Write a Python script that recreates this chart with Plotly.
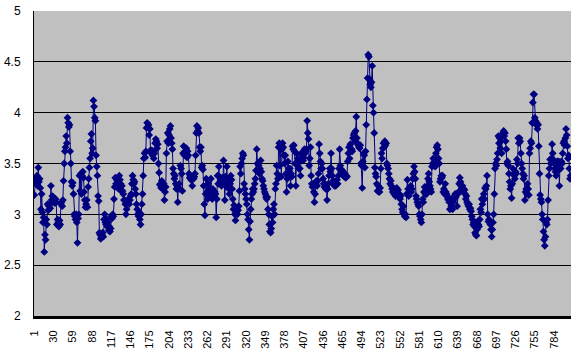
import plotly.graph_objects as go

values = [
3.19, 3.33, 3.36, 3.30, 3.38, 3.28, 3.46, 3.32, 3.35, 3.26,
3.05, 3.20, 3.02, 2.92, 2.97, 2.63, 2.80, 2.75, 2.95, 2.90,
3.10, 3.04, 3.08, 3.10, 3.06, 3.28, 3.14, 3.18, 3.12, 3.17,
3.13, 3.11, 3.15, 3.12, 2.90, 2.95, 2.92, 2.88, 2.94, 2.90,
3.10, 3.12, 3.08, 3.14, 3.33, 3.50, 3.62, 3.66, 3.77, 3.70,
3.95, 3.90, 3.86, 3.88, 3.62, 3.50, 3.32, 3.28, 3.31, 3.20,
3.00, 2.98, 2.95, 3.00, 2.92, 2.72, 2.96, 3.00, 3.38, 3.23,
3.40, 3.20, 3.38, 3.42, 3.36, 3.22, 3.14, 3.07, 3.10, 3.14,
3.07, 3.27, 3.35, 3.46, 3.55, 3.72, 3.79, 3.60, 3.65, 4.12,
4.06, 3.95, 3.92, 3.58, 3.47, 3.38, 3.18, 3.13, 2.82, 2.80,
2.76, 2.78, 2.80, 2.82, 2.78, 2.95, 3.00, 2.92, 2.90, 2.95,
2.88, 2.92, 2.84, 2.88, 2.83, 2.86, 2.98, 2.96, 3.00, 2.98,
3.15, 3.27, 3.36, 3.30, 3.34, 3.27, 3.30, 3.25, 3.38, 3.34,
3.30, 3.23, 3.28, 3.23, 3.20, 3.14, 3.14, 3.10, 3.00, 3.05,
3.14, 3.12, 3.14, 3.10, 3.14, 3.18, 3.20, 3.30, 3.38, 3.34,
3.30, 3.32, 3.25, 3.20, 3.10, 3.05, 3.00, 2.98, 3.02, 2.95,
2.90, 3.00, 3.10, 3.20, 3.38, 3.55, 3.60, 3.56, 3.62, 3.85,
3.90, 3.86, 3.88, 3.78, 3.84, 3.63, 3.60, 3.63, 3.58, 3.62,
3.55, 3.60, 3.70, 3.74, 3.72, 3.65, 3.69, 3.50, 3.41, 3.29,
3.30, 3.26, 3.33, 3.28, 3.25, 3.30, 3.14, 3.22, 3.27, 3.60,
3.72, 3.80, 3.70, 3.78, 3.84, 3.87, 3.75, 3.70, 3.64, 3.45,
3.40, 3.35, 3.38, 3.30, 3.25, 3.28, 3.12, 3.26, 3.30, 3.25,
3.48, 3.45, 3.40, 3.23, 3.60, 3.67, 3.58, 3.62, 3.60, 3.65,
3.56, 3.62, 3.58, 3.40, 3.36, 3.38, 3.34, 3.36, 3.28, 3.37,
3.35, 3.37, 3.40, 3.58, 3.80, 3.87, 3.82, 3.85, 3.80, 3.66,
3.62, 3.66, 3.46, 3.48, 3.44, 3.28, 3.10, 2.99, 3.20, 3.35,
3.22, 3.15, 3.30, 3.25, 3.18, 3.20, 3.35, 3.22, 3.15, 3.25,
3.20, 3.18, 3.22, 3.20, 2.97, 3.15, 3.38, 3.30, 3.47, 3.37,
3.30, 3.34, 3.28, 3.36, 3.30, 3.53, 3.30, 3.14, 3.37, 3.28,
3.47, 3.30, 3.35, 3.25, 3.20, 3.30, 3.38, 3.34, 3.25, 3.15,
3.05, 3.09, 3.00, 2.94, 3.02, 3.06, 3.00, 3.04, 3.08, 3.23,
3.47, 3.40, 3.50, 3.55, 3.60, 3.58, 3.30, 3.25, 3.20, 3.15,
3.10, 3.00, 2.95, 2.85, 2.75, 2.93, 3.05, 3.15, 3.20, 3.25,
3.22, 3.25, 3.30, 3.35, 3.43, 3.64, 3.50, 3.45, 3.48, 3.40,
3.45, 3.53, 3.42, 3.35, 3.33, 3.28, 3.25, 3.22, 3.20, 3.17,
3.15, 3.17, 3.05, 3.00, 2.90, 2.83, 2.82, 2.86, 2.98, 2.92,
3.05, 3.10, 3.00, 3.25, 3.30, 3.48, 3.40, 3.35, 3.66, 3.70,
3.48, 3.68, 3.37, 3.64, 3.70, 3.66, 3.58, 3.50, 3.58, 3.40,
3.22, 3.35, 3.52, 3.45, 3.37, 3.45, 3.28, 3.40, 3.37, 3.67,
3.64, 3.68, 3.62, 3.50, 3.28, 3.60, 3.50, 3.55, 3.45, 3.52,
3.45, 3.38, 3.60, 3.55, 3.58, 3.53, 3.56, 3.64, 3.60, 3.62,
3.64, 3.92, 3.80, 3.74, 3.48, 3.55, 3.66, 3.38, 3.30, 3.27,
3.30, 3.22, 3.12, 3.20, 3.30, 3.33, 3.28, 3.33, 3.40, 3.69,
3.60, 3.52, 3.45, 3.50, 3.45, 3.35, 3.30, 3.27, 3.30, 3.25,
3.27, 3.14, 3.25, 3.30, 3.38, 3.45, 3.42, 3.60, 3.45, 3.38,
3.33, 3.30, 3.28, 3.32, 3.28, 3.30, 3.34, 3.30, 3.38, 3.45,
3.64, 3.48, 3.42, 3.44, 3.40, 3.42, 3.38, 3.37, 3.40, 3.36,
3.38, 3.37, 3.52, 3.60, 3.66, 3.55, 3.69, 3.62, 3.64, 3.62,
3.75, 3.78, 3.80, 3.72, 3.82, 3.96, 3.75, 3.70, 3.68, 3.66,
3.65, 3.68, 3.50, 3.48, 3.26, 3.52, 3.60, 3.58, 3.46, 3.62,
3.88, 4.13, 4.34, 4.57, 4.55, 4.33, 4.28, 4.25, 4.30, 4.46,
4.07, 4.00, 3.80, 3.46, 3.40, 3.37, 3.30, 3.23, 3.28, 3.22,
3.22, 3.26, 3.45, 3.60, 3.55, 3.65, 3.70, 3.66, 3.72, 3.68,
3.70, 3.50, 3.48, 3.45, 3.40, 3.35, 3.30, 3.33, 3.28, 3.25,
3.22, 3.25, 3.20, 3.23, 3.18, 3.22, 3.26, 3.20, 3.24, 3.18,
3.20, 3.15, 3.18, 3.10, 3.05, 3.02, 3.08, 3.00, 2.98, 3.00,
2.97, 3.20, 3.34, 3.25, 3.18, 3.22, 3.25, 3.28, 3.22, 3.25,
3.35, 3.40, 3.47, 3.42, 3.35, 3.18, 3.15, 3.12, 3.10, 3.08,
3.00, 2.98, 2.95, 2.92, 3.00, 3.15, 3.12, 3.22, 3.27, 3.20,
3.24, 3.20, 3.28, 3.35, 3.40, 3.32, 3.28, 3.25, 3.22, 3.47,
3.50, 3.55, 3.48, 3.52, 3.47, 3.60, 3.66, 3.68, 3.64, 3.55,
3.50, 3.32, 3.35, 3.38, 3.36, 3.38, 3.22, 3.25, 3.20, 3.30,
3.22, 3.20, 3.18, 3.15, 3.14, 3.12, 3.05, 3.14, 3.08, 3.15,
3.05, 3.12, 3.15, 3.18, 3.20, 3.17, 3.20, 3.08, 3.20, 3.22,
3.30, 3.36, 3.32, 3.28, 3.25, 3.28, 3.22, 3.25, 3.24, 3.20,
3.15, 3.18, 3.12, 3.10, 3.08, 3.10, 3.05, 3.06, 3.03, 2.98,
2.95, 2.90, 2.92, 2.88, 2.82, 2.80, 2.79, 2.85, 2.93, 2.90,
2.88, 2.95, 3.05, 3.02, 3.15, 3.10, 3.16, 3.20, 3.15, 3.26,
3.25, 3.28, 3.38, 3.00, 2.93, 2.95, 2.92, 2.90, 2.85, 2.78,
2.85, 2.92, 3.00, 3.20, 3.45, 3.50, 3.48, 3.54, 3.60, 3.77,
3.70, 3.75, 3.65, 3.72, 3.60, 3.78, 3.80, 3.82, 3.77, 3.80,
3.72, 3.64, 3.50, 3.52, 3.48, 3.40, 3.32, 3.25, 3.28, 3.16,
3.30, 3.45, 3.40, 3.38, 3.35, 3.42, 3.40, 3.54, 3.50, 3.75,
3.70, 3.75, 3.72, 3.60, 3.50, 3.45, 3.40, 3.35, 3.38, 3.14,
3.22, 3.25, 3.20, 3.30, 3.25, 3.19, 3.60, 3.65, 3.72, 3.70,
3.90, 4.10, 4.18, 4.18, 3.95, 3.92, 3.88, 3.90, 3.84, 3.88,
3.67, 3.40, 3.19, 3.15, 3.12, 3.00, 2.95, 2.83, 2.75, 2.69,
2.78, 2.92, 2.90, 2.95, 3.14, 3.38, 3.45, 3.54, 3.50, 3.55,
3.69, 3.60, 3.54, 3.50, 3.45, 3.42, 3.38, 3.42, 3.52, 3.48,
3.52, 3.28, 3.50, 3.45, 3.52, 3.50, 3.60, 3.70, 3.72, 3.68,
3.75, 3.84, 3.78, 3.67, 3.55, 3.58, 3.45, 3.35, 3.38,
]

categories = list(range(1, len(values) + 1))
tick_labels = list(range(1, len(values) + 1, 29))
y_ticks = [2, 2.5, 3, 3.5, 4, 4.5, 5]

navy = "#000080"
fig = go.Figure(go.Scatter(
    x=categories, y=values, mode="lines+markers",
    line=dict(color=navy, width=1),
    marker=dict(symbol="diamond", size=6, color=navy),
    showlegend=False,
))

fig.update_layout(
    width=575, height=354,
    margin=dict(l=34, r=4, t=11, b=38),
    paper_bgcolor="white", plot_bgcolor="#C0C0C0",
    font=dict(family="Liberation Sans, Arial, sans-serif", color="black"),
)
fig.update_xaxes(
    range=[0.5, len(values) + 0.5],
    tickmode="array", tickvals=tick_labels, ticktext=[str(t) for t in tick_labels],
    tickangle=-90, tickfont=dict(size=11),
    showgrid=False, zeroline=False,
    showline=True, linecolor="black", linewidth=3,
    ticks="", ticklabelstandoff=7,
)
fig.update_yaxes(
    range=[2, 5], tickmode="array", tickvals=y_ticks,
    ticktext=[("%g" % v) for v in y_ticks], tickfont=dict(size=12),
    showgrid=True, gridcolor="black", gridwidth=1,
    zeroline=False, showline=True, linecolor="black", linewidth=1,
    ticks="", ticklabelstandoff=10,
)

fig.write_html(
    "out.html",
    config={"displayModeBar": False},
    post_script="document.body.style.margin='0';document.body.style.overflow='hidden';",
)
